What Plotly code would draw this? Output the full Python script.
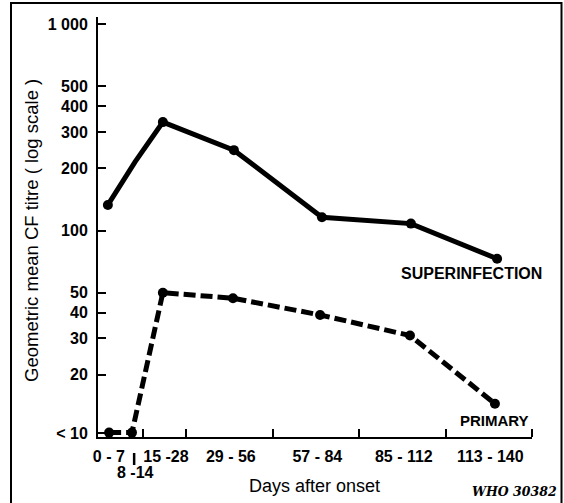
import plotly.graph_objects as go

# ---- data ----
categories = ["0-7", "8-14", "15-28", "29-56", "57-84", "85-112", "113-140"]
cat_start = [0, 8, 15, 29, 57, 85, 113]
cat_end = [7, 14, 28, 56, 84, 112, 140]

# x positions (days) at which points were drawn, and geometric mean CF titres
super_days = [3.2, 12.0, 21.0, 44.0, 72.5, 101.3, 129.2]
super_titre = [133, 215, 335, 245, 116, 108, 73]
super_has_dot = [True, False, True, True, True, True, True]   # 8-14 point has no dot

primary_days = [3.6, 11.0, 21.0, 43.7, 71.9, 101.0, 128.5]
primary_titre = [10.5, 10.5, 50, 47, 39, 31, 14.5]   # first two are "<10"

x_ticktext = ["0 - 7", "15 -28", "29 - 56", "57 - 84", "85 - 112", "113 - 140"]
x_tick_cats = [0, 2, 3, 4, 5, 6]
x_boundaries = [14.5, 28.5, 56.5, 84.5, 112.5, 140.5]

y_tickvals = [10.45, 20, 30, 40, 50, 100, 200, 300, 400, 500, 1000]
y_ticktext = ["< 10", "20", "30", "40", "50", "100", "200", "300", "400", "500", "1 000"]

FONT = "Liberation Sans, Arial, Helvetica, sans-serif"

x_tickvals = [(cat_start[i] + cat_end[i]) / 2 + (0.5 if i > 0 else 0) for i in x_tick_cats]

fig = go.Figure()
fig.add_trace(go.Scatter(
    x=super_days, y=super_titre, mode="lines", name="SUPERINFECTION",
    line=dict(color="black", width=5),
    cliponaxis=False, hoverinfo="skip",
))
fig.add_trace(go.Scatter(
    x=[d for d, k in zip(super_days, super_has_dot) if k],
    y=[v for v, k in zip(super_titre, super_has_dot) if k],
    mode="markers", name="SUPERINFECTION",
    marker=dict(color="black", size=10, line=dict(width=0)),
    cliponaxis=False,
))
fig.add_trace(go.Scatter(
    x=primary_days, y=primary_titre, mode="lines+markers", name="PRIMARY",
    line=dict(color="black", width=5, dash="12px,5px"),
    marker=dict(color="black", size=10, line=dict(width=0)),
    cliponaxis=False,
))

W, H = 564, 503
L, R, T, B = 98, 32, 17, 66
pw, ph = W - L - R, H - T - B

def px_x(p):
    return (p - L) / pw

def px_y(p):
    return (H - B - p) / ph

fig.update_layout(
    width=W, height=H,
    margin=dict(l=L, r=R, t=T, b=B, pad=0),
    paper_bgcolor="white", plot_bgcolor="white",
    showlegend=False,
    font=dict(family=FONT, color="black"),
)

fig.update_xaxes(
    range=[0, 140.5], showgrid=False, zeroline=False,
    showline=True, linecolor="black", linewidth=2,
    tickmode="array", tickvals=x_tickvals, ticktext=x_ticktext,
    ticks="", ticklabelstandoff=4,
    tickfont=dict(family=FONT, size=16, color="black", weight="bold"),
    minor=dict(tickmode="array", tickvals=x_boundaries, ticks="inside",
               ticklen=8, tickwidth=2, tickcolor="black", showgrid=False),
)
fig.update_yaxes(
    type="log", range=[1.0, 3.034], showgrid=False, zeroline=False,
    showline=True, linecolor="black", linewidth=2,
    tickmode="array", tickvals=y_tickvals, ticktext=y_ticktext,
    ticks="inside", ticklen=8, tickwidth=2, tickcolor="black",
    ticklabelstandoff=5,
    tickfont=dict(family=FONT, size=16, color="black", weight="bold"),
)

annotations = [
    dict(text="Days after onset", x=px_x(314), y=px_y(486), xref="paper", yref="paper",
         showarrow=False, font=dict(family=FONT, size=18, color="black"),
         xanchor="center", yanchor="middle"),
    dict(text="Geometric mean CF titre ( log scale )", x=px_x(31), y=px_y(231),
         xref="paper", yref="paper", textangle=-90, showarrow=False,
         font=dict(family=FONT, size=18.5, color="black"),
         xanchor="center", yanchor="middle"),
    dict(text="8 -14", x=(cat_start[1] + cat_end[1]) / 2 + 1, y=px_y(473), xref="x", yref="paper",
         showarrow=False, font=dict(family=FONT, size=16, color="black", weight="bold"),
         xanchor="center", yanchor="middle"),
    dict(text="SUPERINFECTION", x=px_x(471), y=px_y(273), xref="paper", yref="paper",
         showarrow=False, font=dict(family=FONT, size=16, color="black", weight="bold"),
         xanchor="center", yanchor="middle"),
    dict(text="PRIMARY", x=px_x(494), y=px_y(420), xref="paper", yref="paper",
         showarrow=False, font=dict(family=FONT, size=15, color="black", weight="bold"),
         xanchor="center", yanchor="middle"),
    dict(text="WHO 30382", x=px_x(514), y=px_y(491), xref="paper", yref="paper",
         showarrow=False,
         font=dict(family="DejaVu Serif, serif", size=12.5, color="black",
                   weight="bold", style="italic"),
         xanchor="center", yanchor="middle"),
]
fig.update_layout(annotations=annotations)

shapes = [
    # outer frame (left, top, right)
    dict(type="path", xref="paper", yref="paper",
         path=f"M {px_x(11)},{px_y(520)} L {px_x(11)},{px_y(3)} L {px_x(561.5)},{px_y(3)} L {px_x(561.5)},{px_y(520)}",
         line=dict(color="black", width=2)),
    # leader mark for the 8-14 label
    dict(type="line", xref="x", yref="paper",
         x0=11.7, x1=11.7, y0=px_y(453), y1=px_y(465),
         line=dict(color="black", width=2.5)),
]
fig.update_layout(shapes=shapes)

fig.write_html(
    "out.html",
    config={"displayModeBar": False},
    post_script="document.body.style.margin='0';document.body.style.overflow='hidden';",
)
